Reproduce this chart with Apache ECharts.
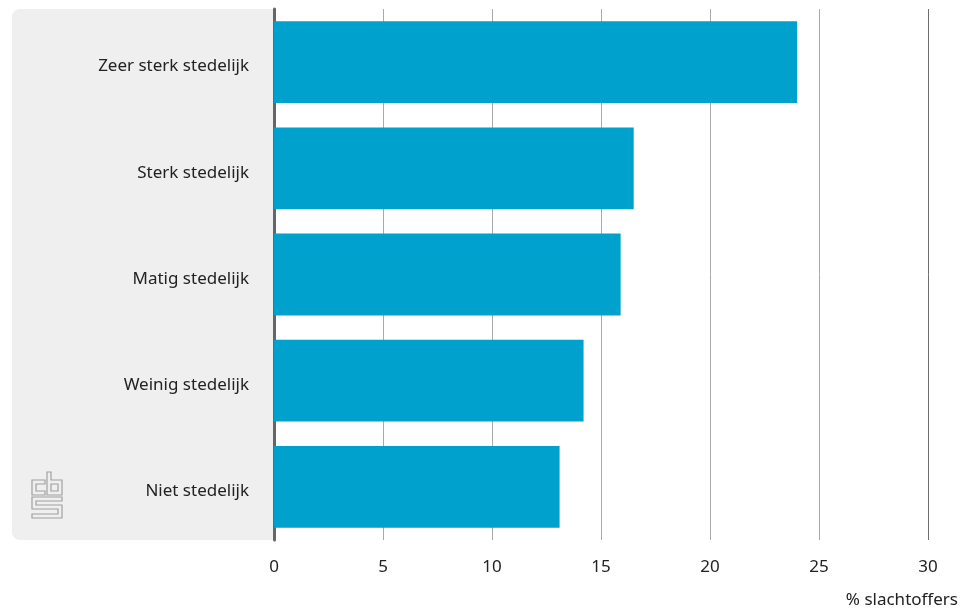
<!DOCTYPE html>
<html><head><meta charset="utf-8">
<script src="https://cdn.jsdelivr.net/npm/echarts@6/dist/echarts.min.js"></script>
<style>html,body{margin:0;padding:0;background:#fff}#c{width:968px;height:613px}</style>
</head><body><div id="c"></div>
<script>
const categories = ['Zeer sterk stedelijk','Sterk stedelijk','Matig stedelijk','Weinig stedelijk','Niet stedelijk'];
const values = [24.0, 16.5, 15.9, 14.2, 13.1];
const xTicks = [0,5,10,15,20,25,30];
const axisName = '% slachtoffers';

const FONT = 'Noto Sans';
const chart = echarts.init(document.getElementById('c'));
chart.setOption({
  animation: false,
  grid: {left: 274, right: 40, top: 9, bottom: 73, outerBoundsMode: 'none', containLabel: false},
  graphic: [
    {type:'rect', z:-10, shape:{x:12, y:9, width:262, height:531, r:[8,0,0,8]}, style:{fill:'#efefef'}},
    {type:'polygon', z:10, shape:{points:[[45,480],[32,480],[32,495],[45,495],[45,491],[36,491],[36,484],[45,484]]}, style:{fill:'none', stroke:'#a0a0a0', lineWidth:1.2}},
    {type:'polygon', z:10, shape:{points:[[47,472],[51,472],[51,480],[62,480],[62,495],[47,495]]}, style:{fill:'none', stroke:'#a0a0a0', lineWidth:1.2}},
    {type:'polygon', z:10, shape:{points:[[51,484],[58,484],[58,491],[51,491]]}, style:{fill:'none', stroke:'#a0a0a0', lineWidth:1.2}},
    {type:'polygon', z:10, shape:{points:[[32,497],[62,497],[62,501],[36,501],[36,505],[62,505],[62,518],[32,518],[32,514],[58,514],[58,509],[32,509]]}, style:{fill:'none', stroke:'#a0a0a0', lineWidth:1.2}}
  ],
  xAxis: {
    type:'value', min:0, max:30, interval:5,
    name: axisName, nameLocation:'end', nameGap: 0,
    nameTextStyle:{fontFamily:FONT, fontSize:17, color:'#222', align:'right', verticalAlign:'top', padding:[52,-30,0,0]},
    axisLine:{show:false}, axisTick:{show:false},
    axisLabel:{fontFamily:FONT, fontSize:17, color:'#222', margin:19,
      formatter: v => xTicks.includes(v) ? String(v) : ''},
    splitLine:{show:true, lineStyle:{color:['#aaaaaa','#aaaaaa','#aaaaaa','#aaaaaa','#aaaaaa','#aaaaaa','#6e6e6e'], width:1}}
  },
  yAxis: {
    type:'category', data:categories, inverse:true,
    axisLine:{show:true, lineStyle:{color:'#666', width:3}},
    axisTick:{show:false},
    axisLabel:{fontFamily:FONT, fontSize:17, color:'#222', margin:25, verticalAlign:'top', lineHeight:9}
  },
  series: [{
    type:'bar', data:values, barCategoryGap:'23%',
    itemStyle:{color:'#00a1cd'}
  }]
});
</script></body></html>
